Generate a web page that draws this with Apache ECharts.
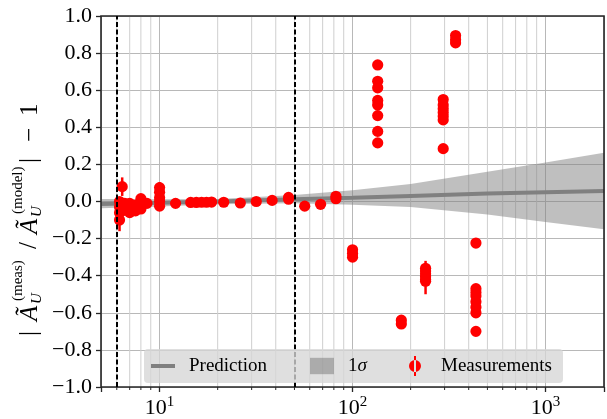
<!DOCTYPE html>
<html><head><meta charset="utf-8">
<script src="https://cdn.jsdelivr.net/npm/echarts@6/dist/echarts.min.js"></script>
<style>html,body{margin:0;padding:0;background:#fff}#c{width:607px;height:419px}</style>
</head><body><div id="c"></div>
<script>
const FONT = 'Liberation Serif';

// ---- axes ----
const xMin = 4.97, xMax = 2010;
const yMin = -1.0, yMax = 1.0, yStep = 0.2;
const xMajorTicks = [10, 100, 1000];
const xMinorTicks = [6,7,8,9,20,30,40,50,60,70,80,90,200,300,400,500,600,700,800,900];

// ---- vertical dashed cut lines ----
const cutX = [6, 50];

// ---- prediction ----
const predX = [4.97, 10, 20, 50, 100, 200, 500, 1000, 2010];
const predY = [-0.013, -0.007, 0.0, 0.012, 0.02, 0.03, 0.043, 0.05, 0.056];

// ---- 1 sigma band ----
const bandX     = [4.97, 10, 20, 50, 100, 200, 500, 1000, 2010];
const bandUpper = [0.013, 0.012, 0.014, 0.035, 0.06, 0.095, 0.16, 0.21, 0.263];
const bandLower = [-0.037, -0.027, -0.015, -0.01, -0.017, -0.03, -0.07, -0.11, -0.15];

// ---- measurements ----
const measX = [6.2,6.2,6.2,6.2, 6.4,6.4,6.4, 6.6,6.6, 7.0,7.0,7.0, 7.5,7.5, 8.0,8.0,8.0, 8.6,
  10,10,10,10,10, 12.1, 14.5,15.5,16.5,17.5,18.6, 21.5,26.2,31.7,38.3,46.6,46.6,56.5,68.3,82,82,
  100,100,100,
  135,135,135,135,135,135,135,135,
  179,179,
  239,239,239,239,239,239,
  295,295,295,295,295,295,295,
  342,342,342,
  436,436,436,436,436,436,436,436];
const measY = [0.00,-0.03,-0.06,-0.10, 0.08,-0.02,-0.05, -0.01,-0.04, -0.01,-0.04,-0.06, -0.02,-0.05, 0.015,-0.02,-0.04, -0.01,
  0.075,0.05,0.02,0.0,-0.025, -0.01, -0.005,-0.005,-0.004,-0.004,-0.003, -0.004,-0.008,0.0,0.006,0.012,0.022,-0.025,-0.015,0.015,0.028,
  -0.26,-0.28,-0.30,
  0.736,0.648,0.613,0.545,0.52,0.463,0.378,0.316,
  -0.64,-0.66,
  -0.36,-0.375,-0.39,-0.405,-0.42,-0.43,
  0.55,0.52,0.50,0.48,0.46,0.44,0.285,
  0.895,0.872,0.855,
  -0.224,-0.47,-0.49,-0.51,-0.54,-0.57,-0.60,-0.70];
const measErr = [0.01,0.01,0.02,0.06, 0.05,0.02,0.03, 0.01,0.01, 0.01,0.01,0.01, 0.01,0.01, 0.01,0.01,0.01, 0.01,
  0.03,0.01,0.01,0.01,0.01, 0.01, 0.01,0.01,0.01,0.01,0.01, 0.01,0.01,0.01,0.01,0.01,0.01,0.01,0.01,0.01,0.01,
  0.01,0.01,0.01,
  0.01,0.01,0.01,0.01,0.01,0.01,0.01,0.01,
  0.01,0.01,
  0.04,0.01,0.01,0.01,0.01,0.07,
  0.01,0.01,0.01,0.01,0.01,0.01,0.01,
  0.01,0.01,0.01,
  0.01,0.01,0.01,0.01,0.01,0.01,0.01,0.01];

const legendNames = ['Prediction', '1σ', 'Measurements'];

const RED = '#ff0000';
const GRID = '#b8b8b8';

const chart = echarts.init(document.getElementById('c'), null, {renderer: 'canvas'});

const option = {
  animation: false,
  backgroundColor: '#fff',
  grid: {left: 101, top: 16, width: 505, height: 377, show: true, borderColor: '#262626', borderWidth: 1.6, backgroundColor: 'transparent', z: 5},
  xAxis: {
    type: 'log', logBase: 10, min: xMin, max: xMax,
    axisLine: {show: false, onZero: false},
    axisTick: {show: true, inside: false, length: 5, lineStyle: {color: '#262626', width: 1.3}},
    splitLine: {show: true, lineStyle: {color: GRID, width: 1}},
    axisLabel: {
      margin: 4, color: '#000', fontFamily: FONT, fontSize: 22,
      formatter: function (v) {
        const e = Math.round(Math.log10(v));
        if (Math.abs(v - Math.pow(10, e)) > 1e-6 * v || xMajorTicks.indexOf(Math.pow(10, e)) < 0) return '';
        return '{b|10}{s|' + e + '}';
      },
      rich: {
        b: {fontFamily: FONT, fontSize: 22, color: '#000', padding: [6, 0, 0, 0]},
        s: {fontFamily: FONT, fontSize: 15, color: '#000', padding: [0, 0, 6, 0]}
      }
    }
  },
  yAxis: {
    type: 'value', min: yMin, max: yMax, interval: yStep,
    axisLine: {show: false, onZero: false},
    axisTick: {show: true, inside: false, length: 5, lineStyle: {color: '#262626', width: 1.3}},
    splitLine: {show: true, lineStyle: {color: GRID, width: 1}},
    axisLabel: {
      margin: 9, color: '#000', fontFamily: FONT, fontSize: 22,
      formatter: function (v) {
        const r = Math.round(v * 10) / 10;
        return (r < 0 ? '\u2212' : '') + Math.abs(r).toFixed(1);
      }
    }
  },
  legend: {
    left: 144, top: 349, orient: 'horizontal',
    padding: [7, 9, 7, 7],
    itemWidth: 24, itemHeight: 20, itemGap: 40,
    backgroundColor: 'rgba(214,214,214,0.78)', borderRadius: 4,
    z: 20,
    textStyle: {fontFamily: FONT, fontSize: 19, color: '#000', lineHeight: 20, padding: [0, 0, 0, 9]},
    formatter: function (name) {
      if (name === '1σ') return '{n|1}{i|σ}';
      return name;
    },
    data: [
      {name: legendNames[0], icon: 'path://M0,0h24v4h-24z', itemStyle: {color: '#808080'}, textStyle: {width: 81}},
      {name: legendNames[1], icon: 'path://M0,0h22v15h-22z', itemStyle: {color: 'rgba(128,128,128,0.55)'},
        textStyle: {width: 21, rich: {n: {fontFamily: FONT, fontSize: 19, color: '#000'}, i: {fontFamily: FONT, fontSize: 19, fontStyle: 'italic', color: '#000'}}}},
      {name: legendNames[2], icon: 'path://M5,0h2v20h-2z M0,10a6,6 0 1,0 12,0a6,6 0 1,0 -12,0z', itemStyle: {color: RED},
        textStyle: {width: 113}}
    ]
  },
  series: [
    { // minor grid lines and minor ticks
      type: 'custom', name: 'minorgrid', silent: true, z: 0, clip: false,
      data: xMinorTicks.map(v => [v, yMin]),
      renderItem: function (params, api) {
        const p0 = api.coord([api.value(0), yMin]);
        const p1 = api.coord([api.value(0), yMax]);
        return {type: 'group', children: [
          {type: 'line', shape: {x1: p0[0], y1: p0[1], x2: p1[0], y2: p1[1]}, style: {stroke: '#cfcfcf', lineWidth: 1}},
          {type: 'line', shape: {x1: p0[0], y1: p0[1], x2: p0[0], y2: p0[1] + 3}, style: {stroke: '#262626', lineWidth: 1}}
        ]};
      }
    },
    { // 1 sigma band
      type: 'custom', name: legendNames[1], z: 1, clip: true,
      itemStyle: {color: 'rgba(128,128,128,0.5)'},
      data: [[bandX[0], bandUpper[0]]],
      renderItem: function (params, api) {
        const pts = [];
        for (let i = 0; i < bandX.length; i++) pts.push(api.coord([bandX[i], bandUpper[i]]));
        for (let i = bandX.length - 1; i >= 0; i--) pts.push(api.coord([bandX[i], bandLower[i]]));
        return {type: 'polygon', shape: {points: pts}, style: {fill: 'rgba(128,128,128,0.5)'}};
      }
    },
    { // prediction
      type: 'line', name: legendNames[0], z: 2, symbol: 'none', smooth: false,
      lineStyle: {color: '#808080', width: 4},
      itemStyle: {color: '#808080'},
      data: predX.map((x, i) => [x, predY[i]]),
      markLine: {
        silent: true, symbol: ['none', 'none'], label: {show: false},
        lineStyle: {color: '#000', type: [5, 2.5], width: 2},
        data: cutX.map(v => ({xAxis: v}))
      }
    },
    { // measurements with error bars
      type: 'custom', name: legendNames[2], z: 4,
      itemStyle: {color: RED},
      data: measX.map((x, i) => [x, measY[i], measErr[i]]),
      renderItem: function (params, api) {
        const x = api.value(0), y = api.value(1), e = api.value(2);
        const c = api.coord([x, y]);
        const t = api.coord([x, y + e]);
        const b = api.coord([x, y - e]);
        return {type: 'group', children: [
          {type: 'line', shape: {x1: c[0], y1: t[1], x2: c[0], y2: b[1]}, style: {stroke: RED, lineWidth: 2.5}},
          {type: 'circle', shape: {cx: c[0], cy: c[1], r: 5.6}, style: {fill: RED}}
        ]};
      }
    }
  ],
  graphic: [{
    type: 'group', x: 0, y: 337, rotation: Math.PI / 2, z: 30,
    children: [
      {type: 'text', x: 1, y: 29, style: {text: '|', fontFamily: FONT, fontSize: 25, fill: '#000', verticalAlign: 'middle'}},
      {type: 'text', x: 16, y: 30, style: {text: 'Ã', fontFamily: FONT, fontSize: 25, fontStyle: 'italic', fill: '#000', verticalAlign: 'middle'}},
      {type: 'text', x: 36, y: 18, style: {text: '(meas)', fontFamily: FONT, fontSize: 15, fill: '#000', verticalAlign: 'middle'}},
      {type: 'text', x: 33, y: 37, style: {text: 'U', fontFamily: FONT, fontSize: 15, fontStyle: 'italic', fill: '#000', verticalAlign: 'middle'}},
      {type: 'text', x: 88, y: 29, style: {text: '/', fontFamily: FONT, fontSize: 25, fill: '#000', verticalAlign: 'middle'}},
      {type: 'text', x: 103, y: 30, style: {text: 'Ã', fontFamily: FONT, fontSize: 25, fontStyle: 'italic', fill: '#000', verticalAlign: 'middle'}},
      {type: 'text', x: 123, y: 18, style: {text: '(model)', fontFamily: FONT, fontSize: 15, fill: '#000', verticalAlign: 'middle'}},
      {type: 'text', x: 120, y: 37, style: {text: 'U', fontFamily: FONT, fontSize: 15, fontStyle: 'italic', fill: '#000', verticalAlign: 'middle'}},
      {type: 'text', x: 174, y: 29, style: {text: '|', fontFamily: FONT, fontSize: 25, fill: '#000', verticalAlign: 'middle'}},
      {type: 'text', x: 195, y: 30, style: {text: '\u2212', fontFamily: FONT, fontSize: 25, fill: '#000', verticalAlign: 'middle'}},
      {type: 'text', x: 221, y: 30, style: {text: '1', fontFamily: FONT, fontSize: 25, fill: '#000', verticalAlign: 'middle'}}
    ]
  }]
};
chart.setOption(option);
</script>
</body></html>
